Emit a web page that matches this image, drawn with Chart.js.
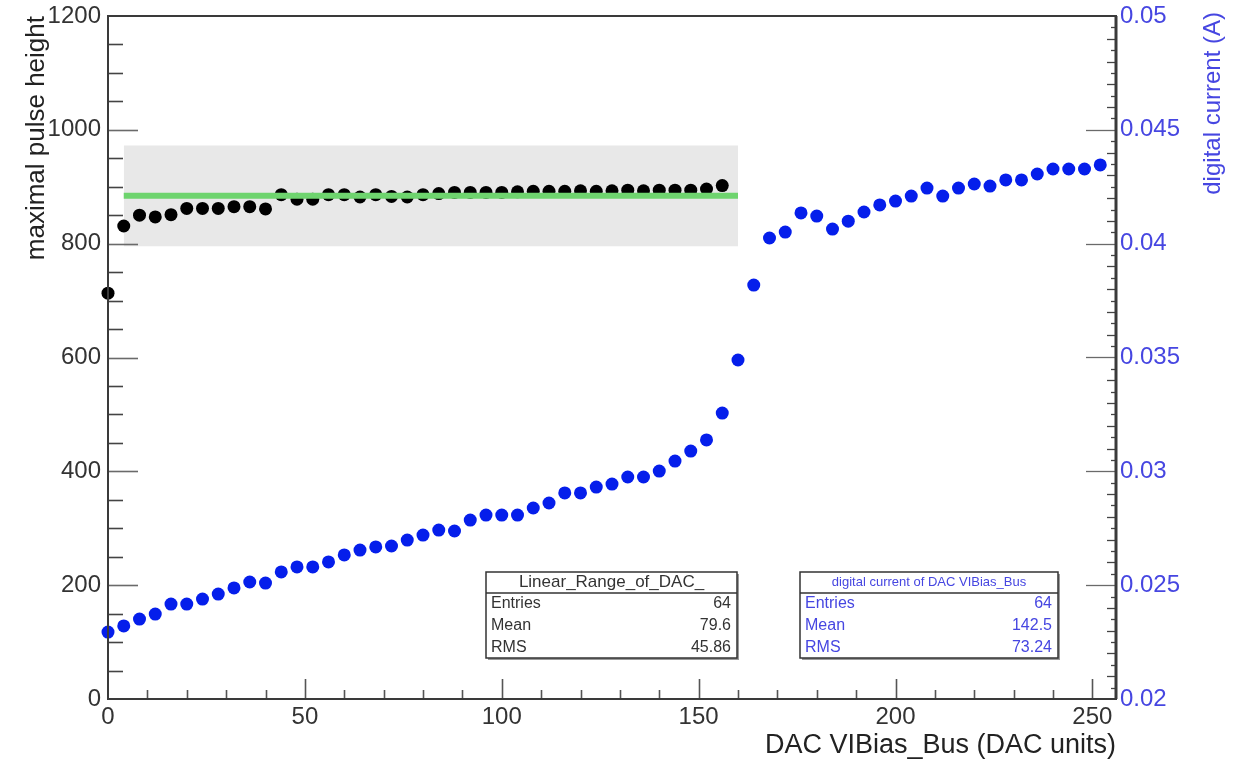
<!DOCTYPE html>
<html>
<head>
<meta charset="utf-8">
<title>DAC VIBias_Bus scan</title>
<script src="https://cdn.jsdelivr.net/npm/chart.js@4.4.1/dist/chart.umd.min.js"></script>
<style>
  html, body { margin: 0; padding: 0; background: #fff; }
  canvas { display: block; }
</style>
</head>
<body>
<canvas id="dacChart" width="1236" height="767"></canvas>
<script>
// DAC settings where the maximal pulse height was measured
const pulseDac = [0, 4, 8, 12, 16, 20, 24, 28, 32, 36, 40, 44, 48, 52, 56, 60, 64, 68, 72, 76,
                  80, 84, 88, 92, 96, 100, 104, 108, 112, 116, 120, 124, 128, 132, 136, 140, 144, 148, 152, 156];
const pulseHeight = [713, 831, 850, 847, 851, 862, 862, 862, 865, 865, 861, 886, 878, 878, 886, 886, 882, 886, 883, 882,
                     886, 888, 890, 890, 890, 890, 891, 892, 892, 892, 893, 892, 893, 894, 893, 894, 894, 894, 896, 902];

// DAC settings where the digital current was measured
const currentDac = [0, 4, 8, 12, 16, 20, 24, 28, 32, 36, 40, 44, 48, 52, 56, 60, 64, 68, 72, 76,
                    80, 84, 88, 92, 96, 100, 104, 108, 112, 116, 120, 124, 128, 132, 136, 140, 144, 148, 152, 156,
                    160, 164, 168, 172, 176, 180, 184, 188, 192, 196, 200, 204, 208, 212, 216, 220, 224, 228, 232, 236,
                    240, 244, 248, 252];
const digitalCurrent = [0.02294, 0.02321, 0.02351, 0.02373, 0.02417, 0.02417, 0.02439, 0.02461, 0.02488, 0.02514,
                        0.02509, 0.02558, 0.0258, 0.0258, 0.02602, 0.02633, 0.02654, 0.02668, 0.02672, 0.02698,
                        0.0272, 0.02742, 0.02738, 0.02786, 0.02808, 0.02808, 0.02808, 0.02839, 0.02861, 0.02905,
                        0.02905, 0.02931, 0.02944, 0.02975, 0.02975, 0.03001, 0.03045, 0.03089, 0.03138, 0.03256,
                        0.03489, 0.03818, 0.04025, 0.04051, 0.04135, 0.04121, 0.04064, 0.04099, 0.04139, 0.0417,
                        0.04187, 0.04209, 0.04244, 0.04209, 0.04244, 0.04262, 0.04253, 0.0428, 0.0428, 0.04306,
                        0.04328, 0.04328, 0.04328, 0.04346];

// constant fit over the linear range, with a +-10% band around it
const fitRange = [4, 160];
const fitLevel = 884;
const bandLow = 795.6;
const bandHigh = 972.4;

// axis labels
const xTicks = [0, 50, 100, 150, 200, 250];
const leftTicks = [0, 200, 400, 600, 800, 1000, 1200];
const leftTickLabels = ['0', '200', '400', '600', '800', '1000', '1200'];
const rightTicks = [0.02, 0.025, 0.03, 0.035, 0.04, 0.045, 0.05];
const rightTickLabels = ['0.02', '0.025', '0.03', '0.035', '0.04', '0.045', '0.05'];

// stat boxes
const pulseStatsTitle = 'Linear_Range_of_DAC_';
const pulseStats = [['Entries', '64'], ['Mean', '79.6'], ['RMS', '45.86']];
const currentStatsTitle = 'digital current of DAC VIBias_Bus';
const currentStats = [['Entries', '64'], ['Mean', '142.5'], ['RMS', '73.24']];

const FONT = "'Liberation Sans', Arial, Helvetica, sans-serif";
const AXIS_COLOR = '#3a3a3a';
const BLUE_TEXT = 'rgb(70,70,225)';

Chart.defaults.font.family = FONT;

function toPoints(xs, ys) {
    return xs.map((x, i) => ({ x: x, y: ys[i] }));
}

// vertical axes: keep a fixed width and don't let edge labels push the plot area
function fixVertical(width) {
    return scale => {
        scale.width = width;
        scale.paddingTop = 0;
        scale.paddingBottom = 0;
    };
}

// draws a ROOT-style stats box
function drawStatBox(ctx, box, title, titleSize, rows, color) {
    ctx.save();
    // shadow on the lower/right side
    ctx.fillStyle = '#9a9a9a';
    ctx.fillRect(box.x + 2, box.y + box.h, box.w, 2);
    ctx.fillRect(box.x + box.w, box.y + 2, 2, box.h);
    ctx.fillStyle = '#fff';
    ctx.fillRect(box.x, box.y, box.w, box.h);
    ctx.strokeStyle = '#333';
    ctx.lineWidth = 1.5;
    ctx.strokeRect(box.x, box.y, box.w, box.h);
    ctx.beginPath();
    ctx.moveTo(box.x, box.y + 21);
    ctx.lineTo(box.x + box.w, box.y + 21);
    ctx.stroke();

    ctx.fillStyle = color;
    ctx.textBaseline = 'middle';
    ctx.textAlign = 'center';
    ctx.font = titleSize + 'px ' + FONT;
    ctx.fillText(title, box.x + box.w / 2, box.y + 10);

    ctx.font = '16px ' + FONT;
    rows.forEach((row, i) => {
        const y = box.y + 32 + i * 22;
        ctx.textAlign = 'left';
        ctx.fillText(row[0], box.x + 5, y);
        ctx.textAlign = 'right';
        ctx.fillText(row[1], box.x + box.w - 6, y);
    });
    ctx.restore();
}

// frame, inward tick marks, right axis title and the stats boxes
const rootFrame = {
    id: 'rootFrame',
    afterDraw(chart) {
        const ctx = chart.ctx;
        const area = chart.chartArea;
        const x = chart.scales.x;
        const y = chart.scales.y;
        const y2 = chart.scales.y2;

        ctx.save();
        ctx.lineCap = 'butt';

        // minor/major ticks on the bottom axis
        ctx.strokeStyle = '#555';
        ctx.lineWidth = 1.6;
        for (let v = 10; v <= 250; v += 10) {
            const px = Math.round(x.getPixelForValue(v)) + 0.5;
            const len = v % 50 === 0 ? 20 : 9;
            ctx.beginPath();
            ctx.moveTo(px, area.bottom);
            ctx.lineTo(px, area.bottom - len);
            ctx.stroke();
        }

        // ticks on the left axis
        for (let v = 50; v < 1200; v += 50) {
            const py = Math.round(y.getPixelForValue(v)) + 0.5;
            const len = v % 200 === 0 ? 30 : 15;
            ctx.strokeStyle = v % 200 === 0 ? '#6a6a6a' : '#444';
            ctx.beginPath();
            ctx.moveTo(area.left, py);
            ctx.lineTo(area.left + len, py);
            ctx.stroke();
        }

        // ticks on the right axis
        ctx.lineWidth = 1.3;
        for (let i = 1; i < 60; i++) {
            const v = 0.02 + i * 0.0005;
            const py = Math.round(y2.getPixelForValue(v)) + 0.5;
            let len = i % 2 === 0 ? 9 : 5;
            ctx.strokeStyle = '#444';
            if (i % 10 === 0) {
                len = 30;
                ctx.strokeStyle = '#6a6a6a';
            }
            ctx.beginPath();
            ctx.moveTo(area.right, py);
            ctx.lineTo(area.right - len, py);
            ctx.stroke();
        }

        // frame lines
        ctx.strokeStyle = AXIS_COLOR;
        ctx.lineWidth = 2;
        ctx.strokeRect(area.left, area.top, area.right - area.left, area.bottom - area.top);
        ctx.lineWidth = 3;
        ctx.beginPath();
        ctx.moveTo(area.right, area.top);
        ctx.lineTo(area.right, area.bottom);
        ctx.stroke();

        // right axis title, reading upwards
        ctx.translate(area.right + 97, area.top - 4);
        ctx.rotate(-Math.PI / 2);
        ctx.fillStyle = BLUE_TEXT;
        ctx.font = '24px ' + FONT;
        ctx.textAlign = 'right';
        ctx.textBaseline = 'middle';
        ctx.fillText('digital current (A)', 0, 0);
        ctx.restore();

        drawStatBox(ctx, { x: 486, y: 572, w: 251, h: 86 }, pulseStatsTitle, 17, pulseStats, '#333');
        drawStatBox(ctx, { x: 800, y: 572, w: 258, h: 86 }, currentStatsTitle, 13, currentStats, BLUE_TEXT);
    }
};

const ctx = document.getElementById('dacChart').getContext('2d');

new Chart(ctx, {
    type: 'scatter',
    data: {
        datasets: [
            {
                // digital current (right axis)
                data: toPoints(currentDac, digitalCurrent),
                yAxisID: 'y2',
                backgroundColor: 'rgb(5,30,235)',
                borderWidth: 0,
                pointRadius: 6.5,
                clip: false,
                order: 0
            },
            {
                // constant fit
                type: 'line',
                data: toPoints(fitRange, [fitLevel, fitLevel]),
                yAxisID: 'y',
                borderColor: 'rgb(110,212,110)',
                borderWidth: 6,
                pointRadius: 0,
                fill: false,
                order: 1
            },
            {
                // maximal pulse height (left axis)
                data: toPoints(pulseDac, pulseHeight),
                yAxisID: 'y',
                backgroundColor: '#000',
                borderWidth: 0,
                pointRadius: 6.5,
                clip: false,
                order: 2
            },
            {
                // tolerance band around the fit
                type: 'line',
                data: toPoints(fitRange, [bandHigh, bandHigh]),
                yAxisID: 'y',
                borderWidth: 0,
                borderColor: 'rgba(0,0,0,0)',
                backgroundColor: '#e8e8e8',
                pointRadius: 0,
                fill: { value: bandLow },
                order: 3
            }
        ]
    },
    plugins: [rootFrame],
    options: {
        responsive: false,
        animation: false,
        layout: { padding: { top: 16, left: 0, right: 0, bottom: 0 } },
        plugins: {
            legend: { display: false },
            tooltip: { enabled: false }
        },
        scales: {
            x: {
                type: 'linear',
                position: 'bottom',
                min: 0,
                max: 256,
                grid: { display: false, drawTicks: false },
                border: { display: false },
                afterBuildTicks: scale => { scale.ticks = xTicks.map(v => ({ value: v })); },
                afterFit: scale => {
                    scale.height = 68;
                    scale.paddingLeft = 0;
                    scale.paddingRight = 0;
                },
                ticks: {
                    color: '#333',
                    font: { size: 24 },
                    padding: 4,
                    maxRotation: 0,
                    autoSkip: false
                },
                title: {
                    display: true,
                    text: 'DAC VIBias_Bus (DAC units)',
                    align: 'end',
                    color: '#222',
                    font: { size: 27 },
                    padding: { top: 0, bottom: 5 }
                }
            },
            y: {
                type: 'linear',
                position: 'left',
                min: 0,
                max: 1200,
                grid: { display: false, drawTicks: false },
                border: { display: false },
                afterBuildTicks: scale => { scale.ticks = leftTicks.map(v => ({ value: v })); },
                afterFit: fixVertical(108),
                ticks: {
                    color: '#333',
                    font: { size: 24 },
                    padding: 7,
                    autoSkip: false,
                    callback: (value, index) => leftTickLabels[index]
                },
                title: {
                    display: true,
                    text: 'maximal pulse height',
                    align: 'end',
                    color: '#222',
                    font: { size: 26 },
                    padding: { top: 21, bottom: 0 }
                }
            },
            y2: {
                type: 'linear',
                position: 'right',
                min: 0.02,
                max: 0.05,
                grid: { display: false, drawTicks: false },
                border: { display: false },
                afterBuildTicks: scale => { scale.ticks = rightTicks.map(v => ({ value: v })); },
                afterFit: fixVertical(120),
                ticks: {
                    color: BLUE_TEXT,
                    font: { size: 24 },
                    padding: 4,
                    autoSkip: false,
                    callback: (value, index) => rightTickLabels[index]
                }
            }
        }
    }
});
</script>
</body>
</html>
